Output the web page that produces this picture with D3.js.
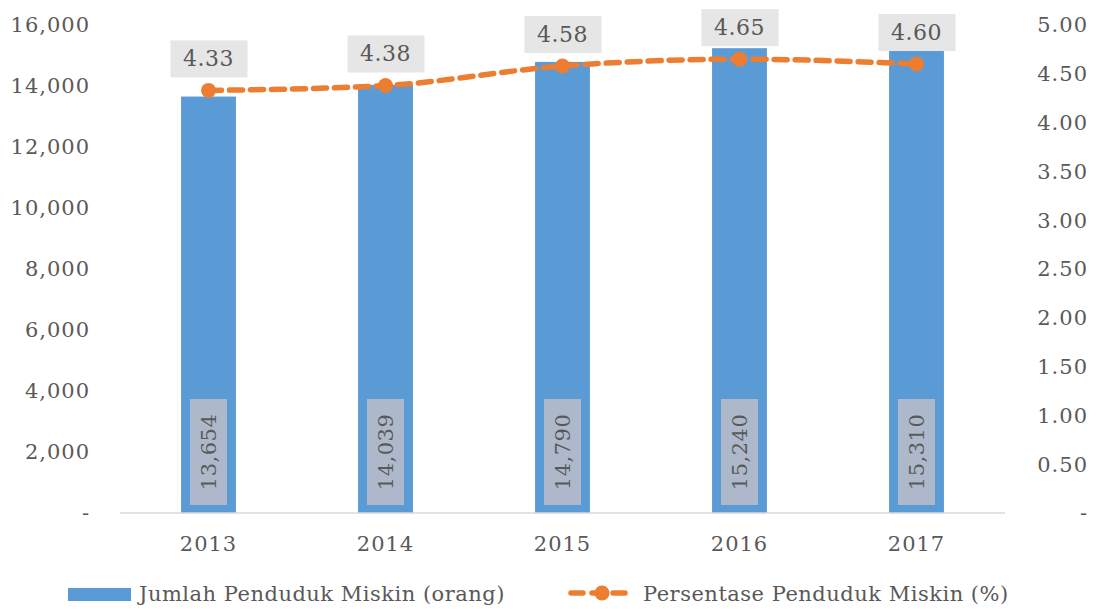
<!DOCTYPE html>
<html>
<head>
<meta charset="utf-8">
<script src="https://cdn.jsdelivr.net/npm/d3@7"></script>
<style>
  body { margin: 0; background: #fff; }
  text { font-family: "DejaVu Serif", serif; fill: #595959; }
</style>
</head>
<body>
<div id="chart"></div>
<script>
// data
var years = ["2013", "2014", "2015", "2016", "2017"];
var jumlah = [13654, 14039, 14790, 15240, 15310];
var persen = [4.33, 4.38, 4.58, 4.65, 4.60];
var leftTicks = [0, 2000, 4000, 6000, 8000, 10000, 12000, 14000, 16000];
var rightTicks = [0, 0.5, 1, 1.5, 2, 2.5, 3, 3.5, 4, 4.5, 5];

var W = 1096, H = 609;
var margin = {top: 25, right: 91, bottom: 96, left: 120};
var width = W - margin.left - margin.right,
  height = H - margin.top - margin.bottom;

var svg = d3.select("#chart").append("svg")
  .attr("width", W).attr("height", H);
var g = svg.append("g")
  .attr("transform", "translate(" + margin.left + "," + margin.top + ")");

var x = d3.scaleBand().domain(years).range([0, width]).paddingInner(0.69).paddingOuter(0.345);
var y = d3.scaleLinear().domain([0, 16000]).range([height, 0]);
var y2 = d3.scaleLinear().domain([0, 5]).range([height, 0]);

var fmt = d3.format(",");

// left ticks
g.selectAll(".lt").data(leftTicks).enter().append("text")
  .attr("x", -30).attr("y", function(d) { return y(d); })
  .attr("dy", "0.35em").attr("text-anchor", "end")
  .style("font-size", "21px").style("letter-spacing", "1px")
  .text(function(d) { return d === 0 ? "-" : fmt(d); });

// right ticks
g.selectAll(".rt").data(rightTicks).enter().append("text")
  .attr("x", width + 83).attr("y", function(d) { return y2(d); })
  .attr("dy", "0.35em").attr("text-anchor", "end")
  .style("font-size", "21px").style("letter-spacing", "1px")
  .text(function(d) { return d === 0 ? "-" : d.toFixed(2); });

// bars
g.selectAll(".bar").data(jumlah).enter().append("rect")
  .attr("x", function(d, i) { return x(years[i]); })
  .attr("y", function(d) { return y(d); })
  .attr("width", x.bandwidth())
  .attr("height", function(d) { return height - y(d); })
  .attr("fill", "#5B9BD5");

// baseline
g.append("line").attr("x1", 0).attr("x2", width)
  .attr("y1", height).attr("y2", height)
  .attr("stroke", "#D9D9D9").attr("stroke-width", 1.5);

// x labels
g.selectAll(".xl").data(years).enter().append("text")
  .attr("x", function(d) { return x(d) + x.bandwidth() / 2; })
  .attr("y", height + 38).attr("text-anchor", "middle")
  .style("font-size", "21px").style("letter-spacing", "1px")
  .text(function(d) { return d; });

// bar value labels (rotated)
var bl = g.selectAll(".bl").data(jumlah).enter().append("g")
  .attr("transform", function(d, i) {
    return "translate(" + (x(years[i]) + x.bandwidth() / 2) + "," + (height - 61) + ") rotate(-90)";
  });
bl.append("rect").attr("x", -53).attr("y", -18.5).attr("width", 106).attr("height", 37)
  .attr("fill", "#ADB9CA");
bl.append("text").attr("text-anchor", "middle").attr("dy", "0.35em")
  .style("font-size", "21px").style("letter-spacing", "0.5px")
  .text(function(d) { return fmt(d); });

// line
var cx = function(d, i) { return x(years[i]) + x.bandwidth() / 2; };
var line = d3.line().x(cx).y(function(d) { return y2(d); }).curve(d3.curveMonotoneX);
g.append("path").datum(persen)
  .attr("d", line).attr("fill", "none")
  .attr("stroke", "#ED7D31").attr("stroke-width", 5.5)
  .attr("stroke-dasharray", "13,8").attr("stroke-linecap", "round");
g.selectAll(".dot").data(persen).enter().append("circle")
  .attr("cx", cx).attr("cy", function(d) { return y2(d); })
  .attr("r", 7.5).attr("fill", "#ED7D31");

// line value labels
var ll = g.selectAll(".ll").data(persen).enter().append("g")
  .attr("transform", function(d, i) {
    return "translate(" + cx(d, i) + "," + (y2(d) - 32) + ")";
  });
ll.append("rect").attr("x", -38).attr("y", -18).attr("width", 77).attr("height", 37)
  .attr("fill", "#E7E6E6");
ll.append("text").attr("text-anchor", "middle").attr("dy", "0.35em")
  .style("font-size", "22px").style("letter-spacing", "0.5px")
  .text(function(d) { return d.toFixed(2); });

// legend
var lg = svg.append("g");
lg.append("rect").attr("x", 68).attr("y", 588).attr("width", 63).attr("height", 13).attr("fill", "#5B9BD5");
lg.append("text").attr("x", 139).attr("y", 594).attr("dy", "0.35em")
  .style("font-size", "21px").style("letter-spacing", "0.5px")
  .text("Jumlah Penduduk Miskin (orang)");
lg.append("line").attr("x1", 571).attr("x2", 627).attr("y1", 593).attr("y2", 593)
  .attr("stroke", "#ED7D31").attr("stroke-width", 5.5)
  .attr("stroke-dasharray", "12,9").attr("stroke-linecap", "round");
lg.append("circle").attr("cx", 602).attr("cy", 593).attr("r", 7.5).attr("fill", "#ED7D31");
lg.append("text").attr("x", 643).attr("y", 594).attr("dy", "0.35em")
  .style("font-size", "21px").style("letter-spacing", "0.5px")
  .text("Persentase Penduduk Miskin (%)");
</script>
</body>
</html>
